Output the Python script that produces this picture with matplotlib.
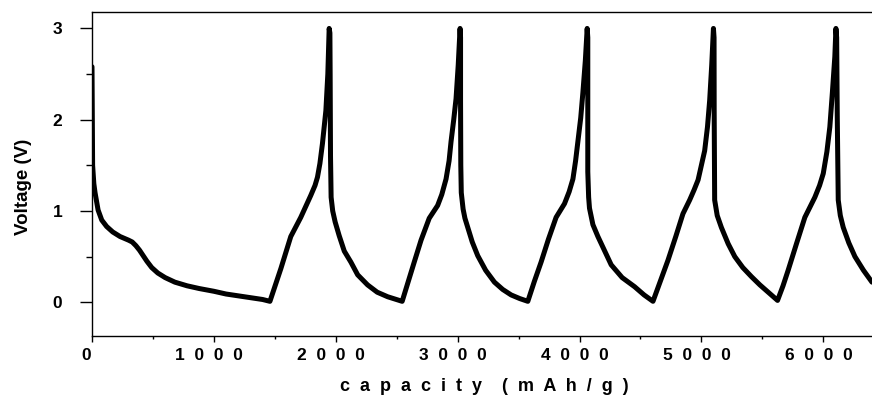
import matplotlib
matplotlib.use("Agg")
import matplotlib.pyplot as plt
from matplotlib.ticker import MultipleLocator, FixedLocator, FixedFormatter

plt.rcParams['font.family'] = ['Liberation Sans', 'DejaVu Sans']
plt.rcParams['font.weight'] = 'bold'

# Capacity (mAh/g) and voltage (V)
capacity = [
    # cycle 1 discharge
    0, 3, 5, 15, 25, 50, 80, 120, 170, 230, 300, 330, 360, 390, 420, 450, 490, 540, 600, 680,
    780, 880, 1000, 1100, 1200, 1300, 1400, 1460,
    # cycle 1 charge
    1550, 1631, 1713, 1795, 1830, 1850, 1870, 1891, 1919, 1935, 1946,
    # cycle 2 discharge
    1952, 1954, 1957, 1962, 1975, 1995, 2028, 2070, 2124, 2180, 2261, 2340, 2426, 2545,
    # cycle 2 charge
    2600, 2644, 2700, 2767, 2836, 2870, 2905, 2930, 2946, 2968, 2987, 3005, 3020,
    # cycle 3 discharge
    3024, 3024, 3026, 3030, 3045, 3060, 3083, 3120, 3165, 3230, 3302, 3370, 3439, 3510, 3576,
    # cycle 3 charge
    3630, 3685, 3745, 3808, 3877, 3915, 3946, 3968, 3987, 4010, 4028, 4048, 4063,
    # cycle 4 discharge
    4068, 4068, 4068, 4075, 4082, 4110, 4151, 4200, 4260, 4350, 4452, 4530, 4603,
    # cycle 4 charge
    4660, 4726, 4790, 4849, 4904, 4940, 4973, 5000, 5027, 5050, 5068, 5085, 5099,
    # cycle 5 discharge
    5104, 5105, 5107, 5109, 5130, 5164, 5220, 5274, 5340, 5411, 5480, 5548, 5625,
    # cycle 5 charge
    5670, 5712, 5780, 5849, 5931, 5970, 6000, 6030, 6054, 6075, 6095, 6104,
    # cycle 6 discharge
    6110, 6115, 6120, 6123, 6140, 6164, 6210, 6260, 6330, 6400,
]
voltage = [
    2.58, 2.0, 1.5, 1.3, 1.2, 1.01, 0.9, 0.83, 0.77, 0.72, 0.68, 0.66, 0.62, 0.57, 0.51, 0.45, 0.38, 0.32, 0.27, 0.22,
    0.18, 0.15, 0.12, 0.09, 0.07, 0.05, 0.03, 0.01,
    0.37, 0.72, 0.93, 1.17, 1.28, 1.37, 1.52, 1.74, 2.1, 2.5, 3.0,
    2.95, 2.5, 1.6, 1.15, 1.0, 0.88, 0.73, 0.56, 0.44, 0.3, 0.19, 0.11, 0.06, 0.01,
    0.25, 0.44, 0.68, 0.92, 1.06, 1.18, 1.35, 1.55, 1.76, 2.0, 2.23, 2.6, 3.0,
    2.9, 2.2, 1.5, 1.2, 1.02, 0.92, 0.82, 0.66, 0.51, 0.35, 0.22, 0.14, 0.08, 0.04, 0.01,
    0.23, 0.44, 0.69, 0.93, 1.08, 1.21, 1.35, 1.55, 1.76, 2.02, 2.3, 2.65, 3.0,
    2.9, 2.2, 1.43, 1.15, 1.03, 0.85, 0.72, 0.58, 0.41, 0.27, 0.17, 0.08, 0.01,
    0.22, 0.46, 0.72, 0.97, 1.12, 1.23, 1.34, 1.5, 1.66, 1.92, 2.21, 2.6, 3.0,
    2.9, 2.1, 1.5, 1.12, 0.95, 0.82, 0.64, 0.5, 0.38, 0.28, 0.19, 0.11, 0.02,
    0.18, 0.35, 0.64, 0.93, 1.15, 1.28, 1.41, 1.65, 1.92, 2.3, 2.69, 3.0,
    2.9, 2.03, 1.5, 1.12, 0.95, 0.82, 0.65, 0.5, 0.35, 0.22,
]

x_ticks = [0, 1000, 2000, 3000, 4000, 5000, 6000]
x_tick_labels = ["0  ", "1  0  0  0  ", "2  0  0  0  ", "3  0  0  0  ",
                 "4  0  0  0  ", "5  0  0  0  ", "6  0  0  0  "]
y_ticks = [0, 1, 2, 3]
y_tick_labels = ["0", "1", "2", "3"]

fig = plt.figure(figsize=(8.72, 4.0), dpi=100)
ax = fig.add_axes([92 / 872, 64 / 400, 780 / 872, 324 / 400])

ax.plot(capacity, voltage, color='black', lw=3.6, solid_joinstyle='round',
        solid_capstyle='round', clip_on=True)

ax.set_xlim(0, 6400)
ax.set_ylim(-0.37, 3.18)

ax.xaxis.set_major_locator(FixedLocator(x_ticks))
ax.xaxis.set_major_formatter(FixedFormatter(x_tick_labels))
ax.xaxis.set_minor_locator(MultipleLocator(500))
ax.yaxis.set_major_locator(FixedLocator(y_ticks))
ax.yaxis.set_major_formatter(FixedFormatter(y_tick_labels))
ax.yaxis.set_minor_locator(MultipleLocator(0.5))

ax.tick_params(axis='x', which='major', direction='out', length=4.3, width=1.0,
               labelsize=12.5, pad=4)
ax.tick_params(axis='x', which='minor', direction='out', length=2.2, width=1.0)
ax.tick_params(axis='y', which='major', direction='out', length=8.8, width=1.0,
               labelsize=12.5, pad=12.5)
ax.tick_params(axis='y', which='minor', direction='out', length=4.5, width=1.0)

for lab in ax.get_xticklabels() + ax.get_yticklabels():
    lab.set_fontweight('bold')

for s in ['left', 'bottom', 'top']:
    ax.spines[s].set_linewidth(1.0)
ax.spines['right'].set_visible(False)

ax.set_xlabel("c  a  p  a  c  i  t  y    (  m  A  h  /  g  )", fontsize=13,
              fontweight='bold')
ax.xaxis.set_label_coords(0.503, -0.13)
ax.set_ylabel("Voltage (V)", fontsize=13.5, fontweight='bold')
ax.yaxis.set_label_coords(-0.077, 0.46)

fig.savefig("out.png", dpi=100)
